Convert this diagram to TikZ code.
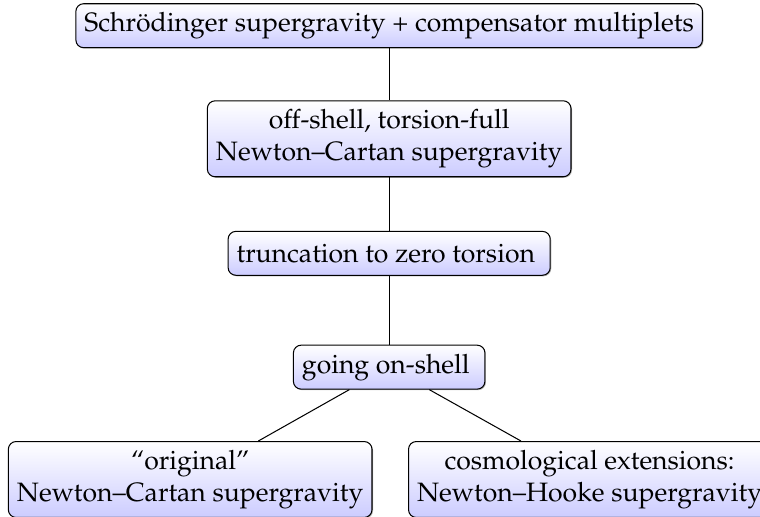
\documentclass[tikz,border=0pt]{standalone}
\usepackage[T1]{fontenc}
\usepackage{mathpazo}
\usetikzlibrary{positioning, shadows}

\begin{document}
\begin{tikzpicture}[
  stage/.style={rectangle, rounded corners=3pt, draw=black, align=center,
                minimum height=17pt, font=\fontsize{10.3}{12.4}\selectfont,
                top color=white, bottom color=blue!20,
                drop shadow={shadow xshift=0.4pt, shadow yshift=-0.4pt, opacity=0.6}},
  link/.style={draw=black}
]
  \useasboundingbox (-5.30,0.34) rectangle (5.05,-6.70);

  \node[stage] (schr)  at (0,-0.01)     {Schr\"odinger supergravity + compensator multiplets};
  \node[stage] (off)   at (0,-1.55)     {off-shell, torsion-full\\Newton--Cartan supergravity};
  \node[stage] (trunc) at (0,-3.11)     {truncation to zero torsion\ };
  \node[stage] (onsh)  at (0,-4.66)     {going on-shell\ };
  \node[stage] (orig)  at (-2.71,-6.19) {``original''\\Newton--Cartan supergravity};
  \node[stage] (cosmo) at (2.73,-6.19)  {cosmological extensions:\\Newton--Hooke supergravity};

  \draw[link] (schr) -- (off);
  \draw[link] (off) -- (trunc);
  \draw[link] (trunc) -- (onsh);
  \draw[link] (onsh) -- (orig);
  \draw[link] (onsh) -- (cosmo);
\end{tikzpicture}
\end{document}
